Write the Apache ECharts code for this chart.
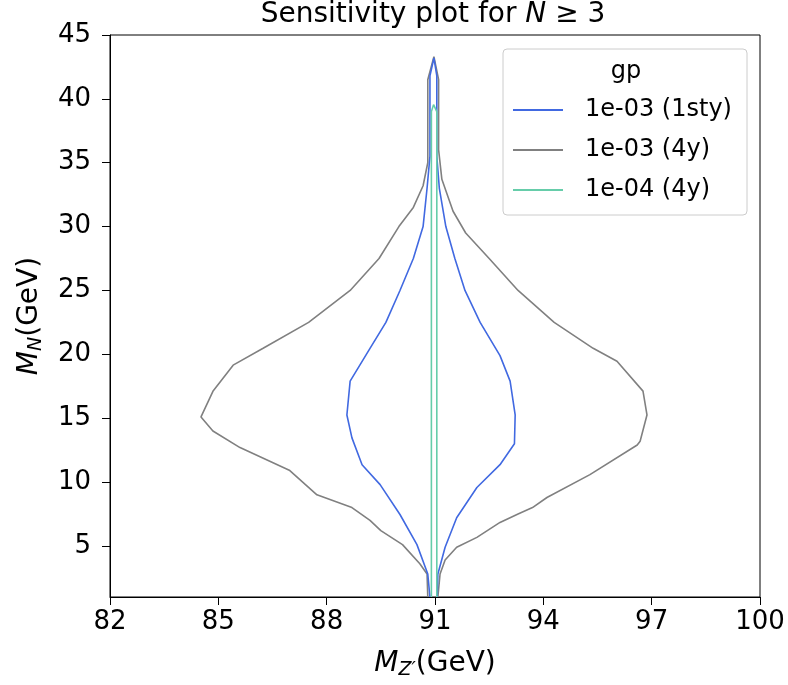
<!DOCTYPE html>
<html>
<head>
<meta charset="utf-8">
<script src="https://cdn.jsdelivr.net/npm/echarts@6/dist/echarts.min.js"></script>
<style>html,body{margin:0;padding:0;background:#fff}#c{width:788px;height:685px}</style>
</head>
<body>
<div id="c"></div>
<script>
// ---- data ----
const xTickValues = [82, 85, 88, 91, 94, 97, 100];
const yTickValues = [5, 10, 15, 20, 25, 30, 35, 40, 45];
const seriesNames = ['1e-03 (1sty)', '1e-03 (4y)', '1e-04 (4y)'];
const legendTitle = 'gp';

// contour 1e-03 (1sty): left branch bottom->top, right branch top->bottom
const blueLeft = [[90.86,1],[90.8,2.8],[90.5,5.1],[90.03,7.46],[89.48,9.8],[88.98,11.36],[88.7,13.46],[88.56,15.25],[88.65,17.9],[89.2,20.47],[89.64,22.5],[90.03,25],[90.4,27.5],[90.67,30],[90.78,33],[90.86,35.5],[90.86,41.8],[90.97,43.2]];
const blueRight = [[91.05,41.8],[91.05,35.5],[91.12,33],[91.3,30],[91.55,27.5],[91.83,25],[92.25,22.5],[92.8,19.9],[93.08,17.9],[93.22,15.25],[93.2,13.0],[92.8,11.36],[92.16,9.57],[91.6,7.2],[91.28,4.9],[91.08,2.8],[91.06,1]];

// contour 1e-03 (4y)
const grayLeft = [[90.8,1],[90.78,2.8],[90.58,3.6],[90.1,5.1],[89.5,6.2],[89.2,7],[88.7,8],[87.73,9.0],[86.98,10.9],[85.6,12.7],[84.85,14.0],[84.52,15.1],[84.85,17.1],[85.41,19.15],[86.24,20.47],[87.5,22.5],[88.65,25],[89.45,27.5],[90.0,30],[90.4,31.5],[90.67,33.2],[90.8,35],[90.8,41.5],[90.97,43.3]];
const grayRight = [[91.1,41.5],[91.1,36],[91.19,33.7],[91.5,31.2],[91.85,29.5],[92.5,27.5],[93.3,25],[94.3,22.5],[95.38,20.47],[96.04,19.46],[96.76,17.12],[96.87,15.25],[96.68,13.2],[96.6,12.9],[95.29,10.58],[94.1,8.79],[93.7,8],[93.3,7.5],[92.8,6.84],[92.16,5.67],[91.6,4.9],[91.28,3.9],[91.14,2.8],[91.08,1]];

// contour 1e-04 (4y)
const greenLeft = [[90.9,1],[90.9,39.0],[90.96,39.55]];
const greenRight = [[91.05,39.0],[91.05,1]];

const colors = ['#4169e1', '#808080', '#66cdaa'];
const FONT = 'DejaVu Sans';

const chart = echarts.init(document.getElementById('c'), null, {renderer: 'canvas'});

function mk(name, left, right, color, z) {
  return {
    name: name, type: 'line', data: left.concat(right),
    showSymbol: false, symbol: 'none', smooth: false,
    lineStyle: {color: color, width: 1.6}, itemStyle: {color: color},
    z: z, silent: true
  };
}

const nameRich = {
  i: {fontStyle: 'italic', fontSize: 28, fontFamily: FONT, color: '#000'},
  s: {fontStyle: 'italic', fontSize: 19, fontFamily: FONT, color: '#000', padding: [14, 0, 0, 0]},
  n: {fontSize: 28, fontFamily: FONT, color: '#000'}
};

chart.setOption({
  animation: false,
  backgroundColor: '#fff',
  textStyle: {fontFamily: FONT, color: '#000'},
  grid: {left: 110, right: 28, top: 35, bottom: 85, show: true, borderColor: '#000', borderWidth: 1, backgroundColor: 'transparent'},
  xAxis: {
    type: 'value', min: 82, max: 100,
    name: '{i|M}{s|Z′}{n|(GeV)}', nameLocation: 'middle', nameGap: 50,
    nameTextStyle: {fontFamily: FONT, fontSize: 28, color: '#000', rich: nameRich},
    axisLine: {show: true, onZero: false, lineStyle: {color: '#000', width: 1}},
    axisTick: {show: true, length: 8, customValues: xTickValues, lineStyle: {color: '#000'}},
    axisLabel: {show: true, customValues: xTickValues, fontSize: 26, color: '#000', margin: 12, fontFamily: FONT},
    splitLine: {show: false}
  },
  yAxis: {
    type: 'value', min: 1, max: 45,
    name: '{i|M}{s|N}{n|(GeV)}', nameLocation: 'middle', nameGap: 64, nameRotate: 90,
    nameTextStyle: {fontFamily: FONT, fontSize: 28, color: '#000', rich: nameRich},
    axisLine: {show: true, onZero: false, lineStyle: {color: '#000', width: 1}},
    axisTick: {show: true, length: 8, customValues: yTickValues, lineStyle: {color: '#000'}},
    axisLabel: {show: true, customValues: yTickValues, fontSize: 26, color: '#000', margin: 19, fontFamily: FONT},
    splitLine: {show: false}
  },
  legend: {
    orient: 'vertical', left: 513, top: 96, padding: 0, z: 10,
    itemWidth: 50, itemHeight: 2, itemGap: 12, icon: 'rect',
    data: seriesNames,
    textStyle: {fontSize: 24, fontFamily: FONT, color: '#000', padding: [0, 0, 0, 17], lineHeight: 28}
  },
  graphic: [
    {type: 'rect', shape: {x: 503, y: 49, width: 244, height: 166, r: 4}, style: {fill: 'rgba(255,255,255,0.8)', stroke: '#cccccc', lineWidth: 1}, z: 5},
    {type: 'text', x: 626, y: 72, style: {text: legendTitle, fontSize: 24, fontFamily: FONT, fill: '#000', align: 'center', verticalAlign: 'middle'}, z: 6},
    {type: 'text', x: 433, y: 15, style: {
      text: '{a|Sensitivity plot for }{i|N}{a| ≥ 3}', align: 'center', verticalAlign: 'middle',
      rich: {a: {fontSize: 28, fontFamily: FONT, fill: '#000'}, i: {fontSize: 28, fontFamily: FONT, fontStyle: 'italic', fill: '#000'}}
    }, z: 6}
  ],
  series: [
    mk(seriesNames[0], blueLeft, blueRight, colors[0], 3),
    mk(seriesNames[1], grayLeft, grayRight, colors[1], 2),
    mk(seriesNames[2], greenLeft, greenRight, colors[2], 4)
  ]
});
</script>
</body>
</html>
